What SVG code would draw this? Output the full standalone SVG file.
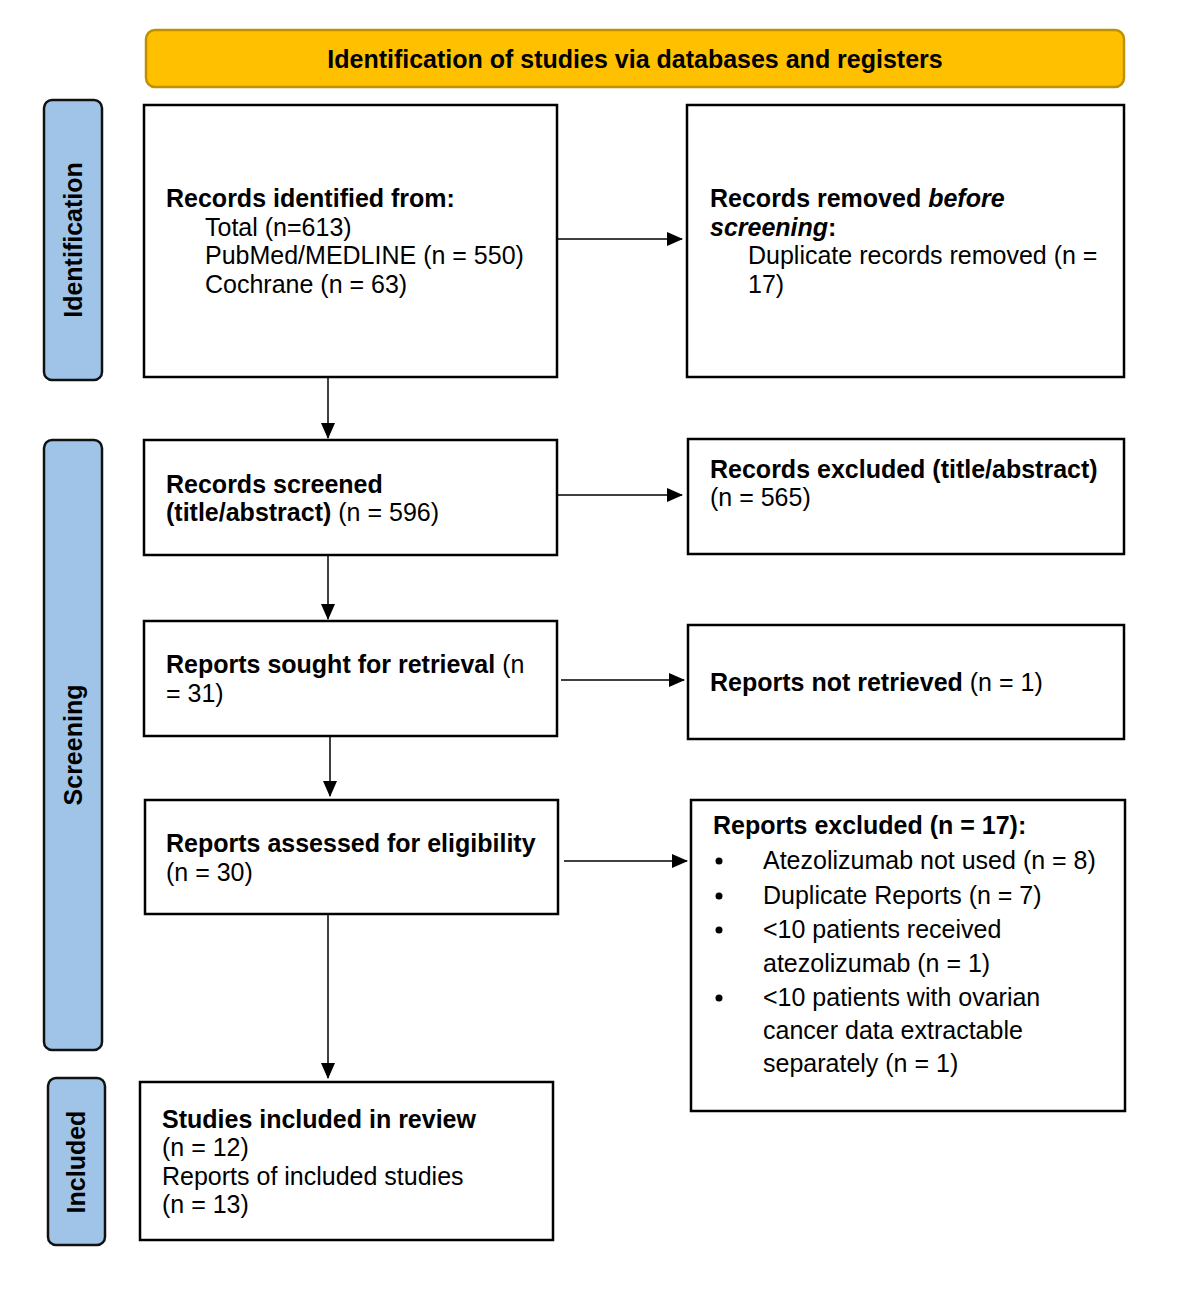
<svg xmlns="http://www.w3.org/2000/svg" width="1191" height="1290" viewBox="0 0 1191 1290">
<defs>
<marker id="ah" markerWidth="16" markerHeight="14" refX="15" refY="7" orient="auto" markerUnits="userSpaceOnUse">
<path d="M0,0 L16,7 L0,14 Z" fill="#000"/>
</marker>
<style>
.box{fill:#fff;stroke:#000;stroke-width:2.5}
.side{fill:#9FC4E8;stroke:#111;stroke-width:2.5}
.hdr{fill:#FFC000;stroke:#BF9000;stroke-width:2.5}
text{font-family:"Liberation Sans",Arial,sans-serif;font-size:25px;fill:#000}
.b{font-weight:bold}
.conn{stroke:#000;stroke-width:1.5;fill:none;marker-end:url(#ah)}
</style>
</defs>
<rect width="1191" height="1290" fill="#fff"/>
<g id="header">
<rect class="hdr" x="146" y="30" width="978" height="57" rx="9"/>
<text class="b" x="635" y="68" text-anchor="middle">Identification of studies via databases and registers</text>
</g>
<g id="side-identification">
<rect class="side" x="44" y="100" width="58" height="280" rx="8"/>
<text class="b" transform="translate(82,240) rotate(-90)" text-anchor="middle">Identification</text>
</g>
<g id="side-screening">
<rect class="side" x="44" y="440" width="58" height="610" rx="8"/>
<text class="b" transform="translate(82,745) rotate(-90)" text-anchor="middle">Screening</text>
</g>
<g id="side-included">
<rect class="side" x="48" y="1078" width="57" height="167" rx="8"/>
<text class="b" transform="translate(85,1162) rotate(-90)" text-anchor="middle">Included</text>
</g>
<g id="identified">
<rect class="box" x="144" y="105" width="413" height="272"/>
<text x="166" y="207" class="b">Records identified from:</text>
<text x="205" y="236">Total (n=613)</text>
<text x="205" y="264">PubMed/MEDLINE (n = 550)</text>
<text x="205" y="293">Cochrane (n = 63)</text>
</g>
<g id="removed">
<rect class="box" x="687" y="105" width="437" height="272"/>
<text x="710" y="207" class="b">Records removed <tspan font-style="italic">before</tspan></text>
<text x="710" y="236" class="b"><tspan font-style="italic">screening</tspan>:</text>
<text x="748" y="264">Duplicate records removed (n =</text>
<text x="748" y="293">17)</text>
</g>
<g id="screened">
<rect class="box" x="144" y="440" width="413" height="115"/>
<text x="166" y="493" class="b">Records screened</text>
<text x="166" y="521"><tspan class="b">(title/abstract)</tspan> (n = 596)</text>
</g>
<g id="excluded">
<rect class="box" x="688" y="439" width="436" height="115"/>
<text x="710" y="478" class="b">Records excluded (title/abstract)</text>
<text x="710" y="506">(n = 565)</text>
</g>
<g id="sought">
<rect class="box" x="144" y="621" width="413" height="115"/>
<text x="166" y="673"><tspan class="b">Reports sought for retrieval</tspan> (n</text>
<text x="166" y="702">= 31)</text>
</g>
<g id="notretrieved">
<rect class="box" x="688" y="625" width="436" height="114"/>
<text x="710" y="691"><tspan class="b">Reports not retrieved</tspan> (n = 1)</text>
</g>
<g id="assessed">
<rect class="box" x="145" y="800" width="413" height="114"/>
<text x="166" y="852" class="b">Reports assessed for eligibility</text>
<text x="166" y="881">(n = 30)</text>
</g>
<g id="reportsexcluded">
<rect class="box" x="691" y="800" width="434" height="311"/>
<text x="713" y="834" class="b">Reports excluded (n = 17):</text>
<circle cx="719" cy="861" r="3.5"/>
<text x="763" y="869">Atezolizumab not used (n = 8)</text>
<circle cx="719" cy="896" r="3.5"/>
<text x="763" y="904">Duplicate Reports (n = 7)</text>
<circle cx="719" cy="930" r="3.5"/>
<text x="763" y="938">&lt;10 patients received</text>
<text x="763" y="972">atezolizumab (n = 1)</text>
<circle cx="719" cy="998" r="3.5"/>
<text x="763" y="1006">&lt;10 patients with ovarian</text>
<text x="763" y="1039">cancer data extractable</text>
<text x="763" y="1072">separately (n = 1)</text>
</g>
<g id="included">
<rect class="box" x="140" y="1082" width="413" height="158"/>
<text x="162" y="1128" class="b">Studies included in review</text>
<text x="162" y="1156">(n = 12)</text>
<text x="162" y="1185">Reports of included studies</text>
<text x="162" y="1213">(n = 13)</text>
</g>
<g id="connectors">
<line class="conn" x1="558" y1="239" x2="682" y2="239"/>
<line class="conn" x1="328" y1="378" x2="328" y2="438"/>
<line class="conn" x1="558" y1="495" x2="682" y2="495"/>
<line class="conn" x1="328" y1="556" x2="328" y2="619"/>
<line class="conn" x1="561" y1="680" x2="684" y2="680"/>
<line class="conn" x1="330" y1="737" x2="330" y2="796"/>
<line class="conn" x1="564" y1="861" x2="687" y2="861"/>
<line class="conn" x1="328" y1="915" x2="328" y2="1078"/>
</g>
</svg>
